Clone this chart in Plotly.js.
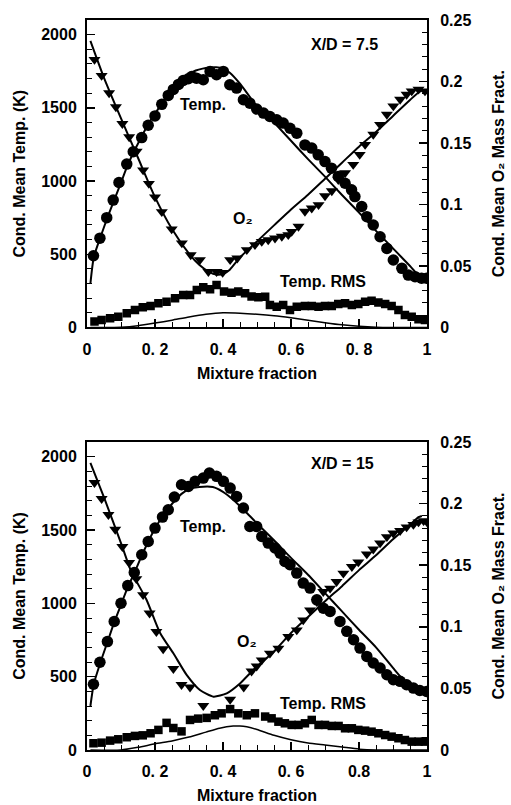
<!DOCTYPE html>
<html>
<head>
<meta charset="utf-8">
<script src="https://cdn.plot.ly/plotly-3.0.1.min.js"></script>
<style>html,body{margin:0;padding:0;background:#fff;}#chart{width:511px;height:805px;}</style>
</head>
<body>
<div id="chart"></div>
<script>
// ---------- Panel A : X/D = 7.5 ----------
const tempMeasX_A = [0.019,0.038,0.058,0.077,0.094,0.117,0.136,0.161,0.180,0.200,0.220,0.239,0.254,0.269,0.283,0.298,0.308,0.322,0.342,0.362,0.381,0.401,0.420,0.440,0.460,0.479,0.499,0.519,0.538,0.558,0.577,0.597,0.617,0.641,0.661,0.680,0.700,0.719,0.739,0.759,0.778,0.788,0.808,0.823,0.842,0.862,0.882,0.901,0.926,0.945,0.965,0.984,0.999];
const tempMeasY_A = [490,610,750,870,990,1116,1200,1297,1381,1445,1524,1585,1626,1660,1687,1699,1714,1703,1692,1749,1726,1749,1658,1635,1555,1532,1492,1464,1441,1418,1396,1361,1327,1247,1225,1179,1133,1088,1031,985,940,894,826,757,700,620,540,461,404,358,347,336,336];
const tempModX_A = [0.01,0.02,0.04,0.06,0.08,0.10,0.12,0.14,0.16,0.18,0.20,0.22,0.24,0.26,0.28,0.30,0.32,0.34,0.36,0.38,0.40,0.42,0.45,0.50,0.55,0.60,0.65,0.70,0.75,0.80,0.85,0.90,0.95,0.97,1.0];
const tempModY_A = [300,480,620,750,870,990,1110,1210,1300,1390,1460,1530,1600,1650,1700,1730,1755,1768,1775,1777,1770,1740,1665,1510,1400,1275,1150,1030,905,785,660,540,420,370,340];
const o2MeasX_A = [0.022,0.043,0.065,0.085,0.104,0.124,0.146,0.165,0.182,0.200,0.220,0.249,0.279,0.305,0.332,0.357,0.381,0.399,0.421,0.442,0.470,0.494,0.514,0.533,0.553,0.573,0.592,0.602,0.622,0.641,0.661,0.681,0.700,0.720,0.739,0.759,0.783,0.802,0.818,0.842,0.862,0.882,0.901,0.921,0.940,0.955,0.975,0.994];
const o2MeasY_A = [0.2178,0.2048,0.1907,0.1793,0.1657,0.1549,0.1432,0.128,0.117,0.106,0.094,0.080,0.0686,0.059,0.055,0.0454,0.0454,0.0446,0.055,0.0563,0.0631,0.0672,0.0699,0.0712,0.0726,0.074,0.0753,0.078,0.0821,0.0943,0.097,0.0997,0.107,0.111,0.1202,0.1257,0.1325,0.1406,0.1487,0.1569,0.165,0.1732,0.180,0.1854,0.1895,0.1922,0.1936,0.1922];
const o2ModX_A = [0.01,0.05,0.10,0.15,0.20,0.25,0.30,0.33,0.36,0.38,0.40,0.42,0.45,0.50,0.55,0.60,0.65,0.70,0.75,0.80,0.85,0.90,0.95,0.98,1.0];
const o2ModY_A = [0.233,0.203,0.170,0.138,0.106,0.080,0.060,0.051,0.045,0.043,0.0435,0.047,0.057,0.070,0.083,0.096,0.108,0.121,0.134,0.147,0.159,0.172,0.185,0.192,0.193];
const rmsMeasX_A = [0.022,0.043,0.068,0.092,0.117,0.141,0.164,0.187,0.210,0.234,0.259,0.283,0.303,0.323,0.342,0.362,0.381,0.403,0.425,0.445,0.465,0.484,0.504,0.524,0.538,0.558,0.577,0.597,0.617,0.641,0.661,0.681,0.700,0.720,0.739,0.759,0.779,0.798,0.818,0.837,0.857,0.877,0.896,0.916,0.935,0.955,0.975,0.994];
const rmsMeasY_A = [40,51,63,74,97,120,138,147,165,176,200,222,222,256,275,261,290,245,238,245,234,211,206,210,154,142,154,120,142,147,147,142,147,147,160,165,154,160,176,183,170,160,147,120,85,74,56,51];
const rmsModX_A = [0.01,0.10,0.15,0.20,0.25,0.30,0.35,0.40,0.45,0.50,0.55,0.60,0.65,0.70,0.75,0.80,0.85,0.90,1.0];
const rmsModY_A = [0,2,12,30,50,72,90,100,97,90,80,66,50,33,18,8,2,0,0];

// ---------- Panel B : X/D = 15 ----------
const tempMeasX_B = [0.019,0.038,0.060,0.080,0.100,0.120,0.139,0.161,0.180,0.200,0.222,0.239,0.257,0.278,0.298,0.318,0.342,0.360,0.381,0.401,0.421,0.440,0.460,0.479,0.499,0.514,0.533,0.553,0.568,0.582,0.597,0.617,0.636,0.656,0.676,0.695,0.715,0.744,0.764,0.784,0.803,0.823,0.842,0.862,0.882,0.901,0.921,0.940,0.960,0.979,0.999];
const tempMeasY_B = [448,598,739,876,1001,1121,1210,1331,1422,1513,1588,1638,1725,1809,1797,1832,1854,1889,1866,1832,1786,1729,1650,1524,1524,1456,1411,1377,1342,1285,1263,1206,1138,1104,1024,967,945,877,809,752,695,638,593,559,513,479,468,445,422,406,399];
const tempModX_B = [0.01,0.02,0.04,0.06,0.08,0.10,0.12,0.14,0.16,0.18,0.20,0.22,0.24,0.26,0.28,0.30,0.33,0.37,0.40,0.43,0.47,0.50,0.55,0.60,0.65,0.70,0.75,0.80,0.85,0.90,0.93,0.96,1.0];
const tempModY_B = [300,450,600,735,870,990,1110,1210,1320,1420,1510,1585,1650,1705,1750,1778,1793,1793,1760,1706,1616,1545,1430,1310,1195,1070,945,820,700,560,480,430,400];
const o2MeasX_B = [0.022,0.043,0.063,0.083,0.104,0.124,0.145,0.165,0.184,0.204,0.224,0.254,0.278,0.303,0.342,0.421,0.461,0.484,0.499,0.514,0.538,0.563,0.592,0.617,0.636,0.656,0.676,0.695,0.715,0.734,0.754,0.779,0.798,0.823,0.842,0.862,0.882,0.901,0.921,0.940,0.960,0.975,0.990,1.0];
const o2MeasY_B = [0.217,0.204,0.191,0.179,0.165,0.152,0.139,0.126,0.111,0.096,0.082,0.066,0.053,0.051,0.036,0.041,0.051,0.064,0.068,0.073,0.0785,0.0825,0.092,0.0974,0.1055,0.1136,0.1204,0.1285,0.1312,0.1366,0.1434,0.1488,0.1525,0.159,0.163,0.168,0.173,0.176,0.178,0.181,0.183,0.185,0.186,0.185];
const o2ModX_B = [0.01,0.05,0.10,0.13,0.175,0.215,0.254,0.293,0.332,0.372,0.411,0.45,0.489,0.55,0.60,0.65,0.705,0.75,0.80,0.85,0.90,0.95,0.975,0.985];
const o2ModY_B = [0.233,0.205,0.168,0.145,0.122,0.095,0.0785,0.061,0.0487,0.0433,0.046,0.054,0.065,0.080,0.095,0.108,0.122,0.133,0.146,0.158,0.171,0.183,0.189,0.19];
const rmsMeasX_B = [0.019,0.043,0.068,0.092,0.117,0.141,0.164,0.187,0.210,0.234,0.254,0.278,0.303,0.327,0.352,0.376,0.396,0.421,0.445,0.470,0.494,0.524,0.543,0.563,0.582,0.602,0.622,0.641,0.661,0.681,0.700,0.720,0.740,0.759,0.779,0.798,0.818,0.837,0.857,0.877,0.896,0.916,0.935,0.955,0.975,0.994];
const rmsMeasY_B = [46,50,64,73,87,96,100,114,137,185,150,127,205,214,219,237,250,279,250,237,250,228,216,193,182,171,171,182,205,171,171,164,164,148,148,137,132,125,114,102,91,80,68,57,57,57];
const rmsModX_B = [0.01,0.10,0.15,0.20,0.25,0.30,0.35,0.39,0.43,0.45,0.47,0.50,0.55,0.60,0.65,0.70,0.75,0.80,0.85,1.0];
const rmsModY_B = [0,0,18,42,62,88,122,148,163,164,158,140,100,70,48,34,20,6,0,0];

// ---------- labels ----------
const xTitle = 'Mixture fraction';
const yLeftTitle = 'Cond. Mean Temp. (K)';
const yRightTitle = 'Cond. Mean O\u2082 Mass Fract.';
const panelLabels = ['X/D = 7.5', 'X/D = 15'];
const curveLabels = ['Temp.', 'O\u2082', 'Temp. RMS'];
const xAliasA = {'0.2':'0. 2','0.4':'0. 4','0.6':'0. 6','0.8':'0. 8'};
const xAliasB = {'0.2':'0. 2','0.4':'0. 4','0.6':'0. 6'};

const FONT = {family:'Arial, "Liberation Sans", Helvetica, sans-serif', size:16, color:'#000', weight:'bold'};

function markers(x, y, xa, ya, symbol, size) {
  return {x:x, y:y, xaxis:xa, yaxis:ya, type:'scatter', mode:'markers',
    marker:{symbol:symbol, size:size, color:'#000', line:{width:0}}, showlegend:false, hoverinfo:'skip'};
}
function line(x, y, xa, ya, w) {
  return {x:x, y:y, xaxis:xa, yaxis:ya, type:'scatter', mode:'lines',
    line:{color:'#000', width:w, shape:'spline', smoothing:0.6}, showlegend:false, hoverinfo:'skip'};
}

const traces = [
  line(tempModX_A, tempModY_A, 'x', 'y', 2),
  line(rmsModX_A, rmsModY_A, 'x', 'y', 1.5),
  line(o2ModX_A, o2ModY_A, 'x', 'y2', 2),
  markers(tempMeasX_A, tempMeasY_A, 'x', 'y', 'circle', 11.5),
  markers(rmsMeasX_A, rmsMeasY_A, 'x', 'y', 'square', 8.5),
  markers(o2MeasX_A, o2MeasY_A, 'x', 'y2', 'triangle-down', 10.5),

  line(tempModX_B, tempModY_B, 'x2', 'y3', 2),
  line(rmsModX_B, rmsModY_B, 'x2', 'y3', 1.5),
  line(o2ModX_B, o2ModY_B, 'x2', 'y4', 2),
  markers(tempMeasX_B, tempMeasY_B, 'x2', 'y3', 'circle', 11.5),
  markers(rmsMeasX_B, rmsMeasY_B, 'x2', 'y3', 'square', 8.5),
  markers(o2MeasX_B, o2MeasY_B, 'x2', 'y4', 'triangle-down', 10.5)
];

function xAxis(anchor, alias) {
  return {anchor:anchor, domain:[0,1], range:[0,1], dtick:0.2, tick0:0, labelalias:alias,
    ticks:'inside', ticklen:8, tickwidth:1.5, tickcolor:'#000',
    minor:{dtick:0.05, tick0:0, ticks:'inside', ticklen:5, tickwidth:1, tickcolor:'#000'},
    showline:true, linewidth:2, linecolor:'#000', mirror:true, showgrid:false, zeroline:false,
    tickfont:FONT, ticklabelstandoff:6,
    title:{text:xTitle, font:FONT, standoff:11}};
}
function yLeft(domain, anchor) {
  return {anchor:anchor, domain:domain, range:[0,2100], dtick:500, tick0:0,
    ticks:'inside', ticklen:8, tickwidth:1.5, tickcolor:'#000',
    minor:{dtick:100, tick0:0, ticks:'inside', ticklen:5, tickwidth:1, tickcolor:'#000'},
    showline:true, linewidth:2, linecolor:'#000', showgrid:false, zeroline:false,
    tickfont:FONT, ticklabelstandoff:5,
    title:{text:yLeftTitle, font:FONT, standoff:12}};
}
function yRight(overlay, anchor) {
  return {anchor:anchor, overlaying:overlay, side:'right', range:[0,0.25], dtick:0.05, tick0:0,
    ticks:'inside', ticklen:8, tickwidth:1.5, tickcolor:'#000',
    minor:{dtick:0.01, tick0:0, ticks:'inside', ticklen:5, tickwidth:1, tickcolor:'#000'},
    showline:true, linewidth:2, linecolor:'#000', showgrid:false, zeroline:false,
    tickfont:FONT, ticklabelstandoff:8,
    title:{text:yRightTitle, font:FONT, standoff:22}};
}

function ann(text, x, y, xref, yref) {
  return {text:text, x:x, y:y, xref:xref, yref:yref, showarrow:false, font:FONT,
    xanchor:'center', yanchor:'middle'};
}

const layout = {
  width:511, height:805,
  margin:{l:87, r:84, t:20, b:55},
  paper_bgcolor:'#fff', plot_bgcolor:'#fff',
  font:FONT,
  showlegend:false,
  xaxis: xAxis('y', xAliasA),
  yaxis: yLeft([0.5788,1], 'x'),
  yaxis2: yRight('y', 'x'),
  xaxis2: xAxis('y3', xAliasB),
  yaxis3: yLeft([0,0.4219], 'x2'),
  yaxis4: yRight('y3', 'x2'),
  annotations:[
    ann(panelLabels[0], 0.756, 1931, 'x', 'y'),
    ann(curveLabels[0], 0.341, 1521, 'x', 'y'),
    ann(curveLabels[1], 0.459, 742, 'x', 'y'),
    ann(curveLabels[2], 0.694, 311, 'x', 'y'),
    ann(panelLabels[1], 0.75, 1952, 'x2', 'y3'),
    ann(curveLabels[0], 0.341, 1522, 'x2', 'y3'),
    ann(curveLabels[1], 0.47, 737, 'x2', 'y3'),
    ann(curveLabels[2], 0.694, 314, 'x2', 'y3')
  ]
};

Plotly.newPlot('chart', traces, layout, {displayModeBar:false, staticPlot:true});
</script>
</body>
</html>
